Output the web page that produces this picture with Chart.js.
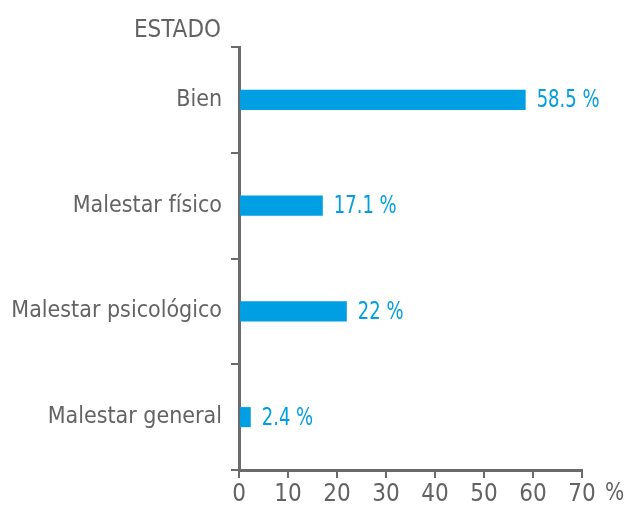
<!DOCTYPE html>
<html>
<head>
<meta charset="utf-8">
<script src="https://cdn.jsdelivr.net/npm/chart.js@4.4.0/dist/chart.umd.min.js"></script>
<style>
html,body{margin:0;padding:0;background:#fff;}
#wrap{width:627px;height:507px;position:relative;}
</style>
</head>
<body>
<div id="wrap"><canvas id="c" width="627" height="507"></canvas></div>
<script>
const categories = ["Bien", "Malestar físico", "Malestar psicológico", "Malestar general"];
const values = [58.5, 17.1, 22, 2.4];
const valueLabels = ["58.5 %", "17.1 %", "22 %", "2.4 %"];
const xTicks = [0, 10, 20, 30, 40, 50, 60, 70];
const axisTitleY = "ESTADO";
const axisUnitX = "%";

const FONT = "'Liberation Sans Narrow', 'DejaVu Sans Condensed', sans-serif";
const GREY = "#6b6b6b";
const TEXT = "#636363";
const BLUE = "#009fe3";

function squeezedText(ctx, text, x, y, sx) {
  ctx.save();
  ctx.translate(x, y);
  ctx.scale(sx, 1);
  ctx.fillText(text, 0, 0);
  ctx.restore();
}

const extras = {
  id: 'extras',
  afterDatasetsDraw(chart) {
    const ctx = chart.ctx;
    const meta = chart.getDatasetMeta(0);
    ctx.save();
    ctx.font = "25px " + FONT;
    ctx.fillStyle = BLUE;
    ctx.textAlign = "left";
    ctx.textBaseline = "middle";
    meta.data.forEach((bar, i) => {
      squeezedText(ctx, valueLabels[i], bar.x + 11, bar.y + 1, 0.8);
    });
    const xs = chart.scales.x, ys = chart.scales.y;
    ctx.fillStyle = TEXT;
    ctx.font = "24px " + FONT;
    ctx.textAlign = "right";
    ctx.textBaseline = "alphabetic";
    ctx.fillText(axisTitleY, ys.right - 18, ys.top - 10);
    ctx.textAlign = "left";
    ctx.textBaseline = "top";
    ctx.font = "25px " + FONT;
    squeezedText(ctx, axisUnitX, xs.getPixelForValue(70) + 23, xs.top + 11, 0.9);
    ctx.restore();
  }
};

new Chart(document.getElementById('c'), {
  type: 'bar',
  data: {
    labels: categories,
    datasets: [{
      data: values,
      backgroundColor: BLUE,
      borderWidth: 0,
      barPercentage: 0.19,
      categoryPercentage: 1
    }]
  },
  options: {
    indexAxis: 'y',
    responsive: false,
    animation: false,
    devicePixelRatio: 1,
    layout: { padding: { top: 47, right: 45, left: 0, bottom: 0 } },
    plugins: { legend: { display: false }, tooltip: { enabled: false } },
    scales: {
      x: {
        min: 0, max: 70,
        afterBuildTicks: (s) => { s.ticks = xTicks.map(v => ({ value: v })); },
        afterFit: (s) => { s.height = 37; },
        border: { display: true, color: GREY, width: 3 },
        grid: { display: true, drawOnChartArea: false, drawTicks: true, tickLength: 8, color: GREY, lineWidth: 2 },
        ticks: { color: TEXT, font: { family: FONT, size: 24 }, padding: 2, maxRotation: 0 }
      },
      y: {
        afterFit: (s) => { s.width = 239; },
        border: { display: true, color: GREY, width: 3 },
        grid: { display: true, offset: true, drawOnChartArea: false, drawTicks: true, tickLength: 8, color: GREY, lineWidth: 2 },
        ticks: { color: TEXT, font: { family: FONT, size: 23 }, padding: 9 }
      }
    }
  },
  plugins: [extras]
});
</script>
</body>
</html>
